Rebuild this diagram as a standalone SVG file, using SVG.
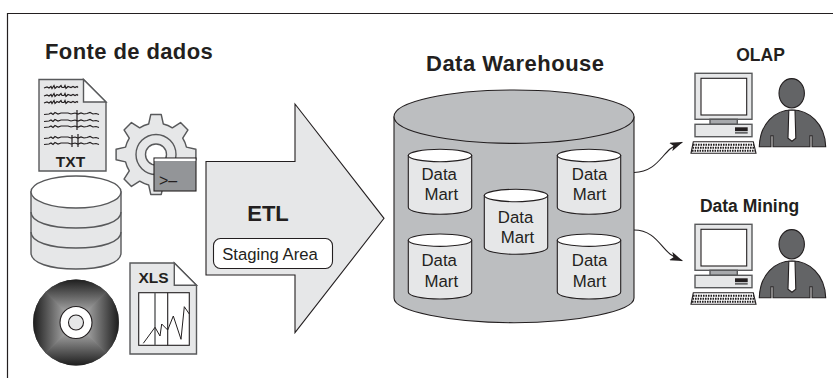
<svg xmlns="http://www.w3.org/2000/svg" xmlns:xlink="http://www.w3.org/1999/xlink" width="833" height="378" viewBox="0 0 833 378">
<style>
text{font-family:"Liberation Sans",Arial,sans-serif;fill:#231f20}
.b{font-weight:bold}
.s{stroke:#231f20;stroke-width:1.1}
.g{stroke:#58595b;stroke-width:1.4}
.l{fill:#e6e7e8}
.w{fill:#fff}
.m{font-size:16.8px;text-anchor:middle}
.d{fill:#636466}
</style>
<defs>
<linearGradient id="cdT" gradientUnits="userSpaceOnUse" x1="76" y1="279" x2="76" y2="322"><stop offset="0" stop-color="#1c1c1c"/><stop offset="1" stop-color="#cfcfcf"/></linearGradient>
<linearGradient id="cdB" gradientUnits="userSpaceOnUse" x1="76" y1="366" x2="76" y2="322"><stop offset="0" stop-color="#1c1c1c"/><stop offset="1" stop-color="#cfcfcf"/></linearGradient>
<linearGradient id="cdL" gradientUnits="userSpaceOnUse" x1="33" y1="322" x2="76" y2="322"><stop offset="0" stop-color="#1c1c1c"/><stop offset="1" stop-color="#cfcfcf"/></linearGradient>
<linearGradient id="cdR" gradientUnits="userSpaceOnUse" x1="119" y1="322" x2="76" y2="322"><stop offset="0" stop-color="#1c1c1c"/><stop offset="1" stop-color="#cfcfcf"/></linearGradient>
<radialGradient id="cdBase" gradientUnits="userSpaceOnUse" cx="76" cy="322.500" r="43"><stop offset="0" stop-color="#cfcfcf"/><stop offset="1" stop-color="#555"/></radialGradient>
<clipPath id="cdClip"><circle cx="76" cy="322.500" r="43"/></clipPath>
<marker id="ah" markerWidth="13" markerHeight="9" refX="12.500" refY="4.500" orient="auto" markerUnits="userSpaceOnUse"><path d="M0 0L13 4.500L0 9L3 4.500Z" fill="#231f20"/></marker>
<g id="mart">
<path class="s l" d="M0 6.200V58C0 62 14 65 31.700 65S63.400 62 63.400 58V6.200Z"/>
<ellipse class="s w" cx="31.700" cy="6.200" rx="31.700" ry="6.200"/>
</g>
<g id="pc">
<rect class="g l" x="65" y="0" width="57" height="46"/>
<rect class="s w" x="71" y="5" width="45.700" height="36.700"/>
<rect class="g" fill="#a7a9ac" x="80" y="46" width="27.300" height="5"/>
<rect class="g l" x="65" y="51" width="57" height="12.400"/>
<rect x="105" y="54" width="12.700" height="3.700" fill="#231f20"/><rect x="105" y="58.400" width="12.700" height="2" fill="#636466"/>
<path class="s" fill="#fff" d="M63.300 68.400H123.300L126 80H61Z"/>
<path d="M63 71.500H124M62.500 74.500H124.500M62 77.500H125" stroke="#231f20" stroke-width="2" stroke-dasharray="1.600 .9" fill="none"/>
<ellipse class="s d" cx="161.700" cy="20" rx="12.700" ry="14.700"/>
<path class="s d" d="M129.300 73.400C130 50 145 36.700 162 36.700S195 50 195.700 73.400H182V62.400H180V73.400H143V62.400H141V73.400Z"/>
<path class="s w" d="M158.800 37H165L165.800 65L162 68L158 65Z"/>
</g>
</defs>
<path d="M7.500 378V13.500H833" fill="none" stroke="#231f20" stroke-width="1.200"/>
<text class="b" x="45" y="59" font-size="22" letter-spacing=".4">Fonte de dados</text>
<g id="txt">
<path class="g l" d="M39 79.500H83.500L106 102V171H39Z"/>
<path class="g w" d="M83.500 79.500L106 102H83.500Z"/>
<g fill="none" stroke="#231f20" stroke-width="1.200">
<path d="M44 88l3-1 2 1 2-1.500 1 2 2-3 1 3 2-2 2 1 2-2 1 2 2 0 1-2 1 3 2-2 3 1 2-1 2 1 2-1 1 1"/>
<path d="M44 96l3-1 2 1 2-1.500 1 2 2-3 1 3 2-2 2 1 2-2 1 2 2 0 1-2 1 3 2-2 3 1 2-1 2 1 2-1 1 1"/>
<path d="M44 103l3-1 2 1 2-1.500 1 2 2-3 1 3 2-2 2 1 2-2 1 2 2 0 1-2 1 3 2-2 3 1 2-1 2 1 2-1 1 1"/>
<path d="M44 114.500l5-.5 2-1 2 1.500 2-2 3 1.500 3-1 4 0 3 0 3 1 4-1 3 1 3-1 3 1 3-.5 3-1 3 1.500 3-.5 3 1"/>
<path d="M44 121.500l5-.5 2-1 2 1.500 2-2 3 1.500 3-1 4 0 3 0 3 1 4-1 3 1 3-1 3 1 3-.5 3-1 3 1.500 3-.5 3 1"/>
<path d="M44 127.500l5-.5 2-1 2 1.500 2-2 3 1.500 3-1 4 0 3 0 3 1 4-1 3 1 3-1 3 1 3-.5 3-1 3 1.500 3-.5 3 1"/>
<path d="M44 138.500l5-.5 2-1 2 1.500 2-2 3 1.500 3-1 4 0 3 0 3 1 4-1 3 1 3-1 3 1 3-.5 3-1 3 1.500 3-.5 3 1"/>
<path d="M44 144.500l5-.5 2-1 2 1.500 2-2 3 1.500 3-1 4 0 3 0 3 1 4-1 3 1 3-1 3 1 3-.5 3-1 3 1.500 3-.5 3 1"/>
<path d="M77 110V130M72 135V147M78 134V147"/>
</g>
<text class="b" x="70.500" y="167" font-size="15.500" text-anchor="middle">TXT</text>
</g>
<g id="gear">
<path class="g l" stroke-linejoin="round" transform="translate(156 154.500) scale(1.050) translate(-154 -153)" d="M147 124L149 115H159L161 124A29 29 0 0 1 169.550 127.550L177.360 122.560L184.440 129.640L179.450 137.450A29 29 0 0 1 183 146L192 148V158L183 160A29 29 0 0 1 179.450 168.550L184.440 176.360L177.360 183.440L169.550 178.450A29 29 0 0 1 161 182L159 191H149L147 182A29 29 0 0 1 138.450 178.450L130.640 183.440L123.560 176.360L128.550 168.550A29 29 0 0 1 125 160L116 158V148L125 146A29 29 0 0 1 128.550 137.450L123.560 129.640L130.640 122.560L138.450 127.550A29 29 0 0 1 147 124Z"/>
<circle class="g" fill="none" cx="156" cy="154.500" r="20"/>
<circle class="g w" cx="156" cy="154.500" r="10.500"/>
<rect class="s" fill="#939598" x="154" y="158" width="42" height="33"/>
<rect class="w" x="154.600" y="158.600" width="40.800" height="2.400"/>
<text x="159" y="186" font-size="16">&gt;–</text>
</g>
<g id="db">
<path class="g l" d="M31 192V253C31 263 50 269 76 269S121 263 121 253V192Z"/>
<path class="g" fill="none" d="M31 212C31 222 50 228 76 228S121 222 121 212M31 232C31 242 50 248 76 248S121 242 121 232"/>
<ellipse class="g w" cx="76" cy="192" rx="45" ry="16"/>
</g>
<g id="cd-disc">
<circle cx="76" cy="322.500" r="43" fill="url(#cdBase)"/>
<g clip-path="url(#cdClip)">
<path d="M33 279H119L76 322.500Z" fill="url(#cdT)" stroke="url(#cdBase)" stroke-width=".6"/>
<path d="M33 366H119L76 322.500Z" fill="url(#cdB)" stroke="url(#cdBase)" stroke-width=".6"/>
<path d="M33 279V366L76 322.500Z" fill="url(#cdL)" stroke="url(#cdBase)" stroke-width=".6"/>
<path d="M119 279V366L76 322.500Z" fill="url(#cdR)" stroke="url(#cdBase)" stroke-width=".6"/>
</g>
<circle class="s w" cx="76" cy="322.500" r="16"/>
<circle class="s l" cx="76" cy="322.500" r="7.500"/>
</g>
<g id="xls">
<path class="g l" d="M130 263H174.300L196.500 285.300V354H130Z"/>
<path class="g w" d="M174.300 263L196.500 285.300H174.300Z"/>
<rect class="s w" x="138.700" y="292.700" width="50.600" height="52.600"/>
<path class="g" fill="none" d="M155 292.700V345.300"/>
<path class="s" fill="none" d="M167.700 292.700V345.300"/>
<path d="M143.300 343.300L155 327.300L160 336L161.700 324L167.700 330L173.300 316L181 339.300L184.300 306.700L189.300 314" fill="none" stroke="#231f20" stroke-width="1"/>
<text class="b" x="153.500" y="283" font-size="15.500" text-anchor="middle">XLS</text>
</g>
<g id="etl">
<path class="s l" d="M206 161.500H295V104L384 218.300L295 332.700V275H206Z"/>
<text class="b" x="268" y="221" font-size="22" text-anchor="middle">ETL</text>
<rect class="s w" x="213.500" y="238.500" width="119" height="30" rx="7"/>
<text x="270" y="260" font-size="16.700" text-anchor="middle">Staging Area</text>
</g>
<text class="b" x="426" y="71" font-size="22" letter-spacing=".5">Data Warehouse</text>
<g id="dw">
<path class="s" fill="#bcbec0" d="M394 117V298C394 311 450 322.700 514 322.700S634 311 634 298V117Z"/>
<ellipse class="s" fill="#bcbec0" cx="514" cy="116.700" rx="120" ry="26.700"/>
</g>
<g id="dm1"><use xlink:href="#mart" x="408.300" y="149.300"/><text class="m" x="439.200" y="180">Data</text><text class="m" x="441.300" y="200">Mart</text></g>
<g id="dm2"><use xlink:href="#mart" x="557.300" y="149.300"/><text class="m" x="589.500" y="180">Data</text><text class="m" x="589.500" y="200">Mart</text></g>
<g id="dm3"><use xlink:href="#mart" x="484.300" y="189.300"/><text class="m" x="515.500" y="223.300">Data</text><text class="m" x="517.500" y="243.300">Mart</text></g>
<g id="dm4"><use xlink:href="#mart" x="408.300" y="234"/><text class="m" x="439.200" y="266">Data</text><text class="m" x="441.300" y="286.500">Mart</text></g>
<g id="dm5"><use xlink:href="#mart" x="557.300" y="234"/><text class="m" x="589.500" y="266">Data</text><text class="m" x="589.500" y="286.500">Mart</text></g>
<g id="connectors" fill="none" stroke="#231f20" stroke-width="1.100">
<path d="M634 172.500C654 172 660 158 670 149C674 146 678 144 682.300 142.300" marker-end="url(#ah)"/>
<path d="M634 230C654 230 660 246 670 254C674 257 678 259 682.300 260.700" marker-end="url(#ah)"/>
</g>
<g id="olap"><use xlink:href="#pc" x="630" y="73.300"/><text class="b" x="760.500" y="60.700" font-size="17.500" text-anchor="middle">OLAP</text></g>
<g id="mining"><use xlink:href="#pc" x="630" y="224.300"/><text class="b" x="749.500" y="211.700" font-size="17.500" text-anchor="middle">Data Mining</text></g>
</svg>
